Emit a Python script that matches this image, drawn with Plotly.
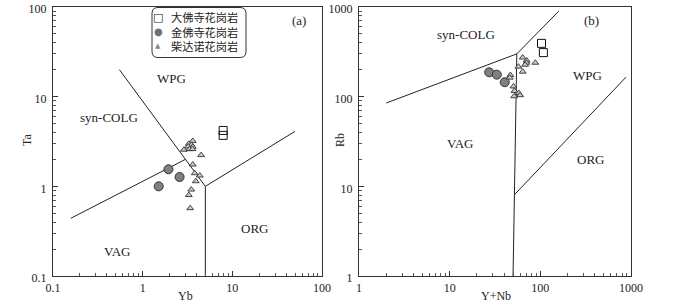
import plotly.graph_objects as go

# ---------------- data ----------------
# (a) Ta vs Yb
dafosi_yb = [7.9, 7.9]
dafosi_ta = [4.2, 3.7]
jinfosi_yb = [1.94, 2.58, 1.51]
jinfosi_ta = [1.55, 1.27, 1.0]
chaida_yb = [3.62, 3.27, 3.50, 3.22, 3.62, 2.88, 3.33, 3.59, 4.49, 3.62, 3.81, 4.33, 3.91, 3.48, 3.27, 3.39]
chaida_ta = [3.21, 2.98, 2.90, 2.78, 2.76, 2.56, 2.60, 2.60, 2.23, 1.75, 1.40, 1.32, 1.14, 0.92, 0.80, 0.57]

# (b) Rb vs Y+Nb
dafosi_ynb = [103, 108]
dafosi_rb = [393, 310]
jinfosi_ynb = [27.3, 33.1, 40.5]
jinfosi_rb = [187, 176, 145]
chaida_ynb = [63.9, 70.7, 70.2, 67.9, 88.1, 57.3, 63.9, 46.8, 46.0, 50.5, 51.8, 57.8, 59.8, 51.4]
chaida_rb = [273, 253, 239, 227, 239, 216, 190, 174, 163, 130, 116, 110, 104, 101]

# discrimination boundaries (Pearce et al., 1984)
a_lines = [
    ([0.158, 3.0], [0.44, 2.0]),
    ([0.55, 5.0], [20.0, 1.0]),
    ([5.0, 5.0], [1.0, 0.1]),
    ([5.0, 50.0], [1.0, 4.1]),
]
b_lines = [
    ([2.0, 55.0], [85.0, 300.0]),
    ([55.0, 160.0], [300.0, 900.0]),
    ([55.0, 51.5, 50.0], [300.0, 8.0, 1.0]),
    ([51.5, 880.0], [8.0, 165.0]),
]

names = ["大佛寺花岗岩", "金佛寺花岗岩", "柴达诺花岗岩"]
legend_glyphs = ["□", "●", "▲"]

# ---------------- figure ----------------
W, H = 700, 303
ML, MR, MT, MB = 0, 0, 7, 27
PH = H - MT - MB

def px(x):
    return x / W

def py(y):
    return (H - MB - y) / PH

fig = go.Figure()

LINE = dict(color="#222", width=1)
for xs, ys in a_lines:
    fig.add_trace(go.Scatter(x=xs, y=ys, mode="lines", line=LINE, showlegend=False,
                             hoverinfo="skip", xaxis="x", yaxis="y"))
for xs, ys in b_lines:
    fig.add_trace(go.Scatter(x=xs, y=ys, mode="lines", line=LINE, showlegend=False,
                             hoverinfo="skip", xaxis="x2", yaxis="y2"))

sq = dict(symbol="square-open", size=8, color="#111", line=dict(width=1, color="#111"))
ci = dict(symbol="circle", size=9, color="#808080", line=dict(width=1, color="#333"))
tr = dict(symbol="triangle-up", size=6, color="#c8c8c8", line=dict(width=0.9, color="#333"))

for xs, ys, m, n, xa, ya in [
    (dafosi_yb, dafosi_ta, sq, names[0], "x", "y"),
    (jinfosi_yb, jinfosi_ta, ci, names[1], "x", "y"),
    (chaida_yb, chaida_ta, tr, names[2], "x", "y"),
    (dafosi_ynb, dafosi_rb, sq, names[0], "x2", "y2"),
    (jinfosi_ynb, jinfosi_rb, ci, names[1], "x2", "y2"),
    (chaida_ynb, chaida_rb, tr, names[2], "x2", "y2"),
]:
    fig.add_trace(go.Scatter(x=xs, y=ys, mode="markers", marker=m, name=n,
                             showlegend=False, xaxis=xa, yaxis=ya))

FONT = "Liberation Serif, Times New Roman, serif"

def axis(domain, rng, anchor, shift=0, standoff=0):
    return dict(
        type="log", range=rng, domain=domain, anchor=anchor,
        showgrid=False, zeroline=False,
        showline=True, linecolor="#333", linewidth=1.2, mirror=True,
        ticks="inside", ticklen=5, tickwidth=1, tickcolor="#333",
        dtick=1, tickfont=dict(family=FONT, size=12, color="#222"),
        ticklabeloverflow="allow", ticklabelshift=shift, ticklabelstandoff=standoff,
        minor=dict(ticks="inside", ticklen=3, tickwidth=1, tickcolor="#555", dtick="D1", showgrid=False),
        automargin=False,
    )

fig.update_layout(
    width=W, height=H,
    margin=dict(l=ML, r=MR, t=MT, b=MB),
    paper_bgcolor="white", plot_bgcolor="white",
    font=dict(family=FONT, size=12, color="#222"),
    xaxis=axis([px(53), px(322)], [-1, 2], "y"),
    yaxis=axis([0, 1], [-1, 2], "x", 2, 3),
    xaxis2=axis([px(359), px(631)], [0, 3], "y2"),
    yaxis2=axis([0, 1], [0, 3], "x2", 2, 3),
    showlegend=False,
)

ann = []
def A(text, x, y, xref="paper", yref="paper", size=12, angle=0, family=FONT,
      color="#222", xanchor="center", align="center"):
    ann.append(dict(text=text, x=x, y=y, xref=xref, yref=yref, showarrow=False,
                    font=dict(family=family, size=size, color=color), textangle=angle,
                    xanchor=xanchor, yanchor="middle", align=align))

# axis titles
A("Ta", px(27), py(140), angle=-90)
A("Yb", px(185), py(296))
A("Rb", px(340), py(140), angle=-90)
A("Y+Nb", px(496), py(296))

# region labels (log10 positions)
A("WPG", 0.322, 1.205, "x", "y", 13)
A("syn-COLG", -0.378, 0.764, "x", "y", 13)
A("VAG", -0.278, -0.724, "x", "y", 13)
A("ORG", 1.244, -0.471, "x", "y", 13)
A("(a)", 1.744, 1.845, "x", "y", 13)
A("syn-COLG", 1.176, 2.690, "x2", "y2", 13)
A("WPG", 2.516, 2.238, "x2", "y2", 13)
A("VAG", 1.121, 1.477, "x2", "y2", 13)
A("ORG", 2.549, 1.301, "x2", "y2", 13)
A("(b)", 2.560, 2.845, "x2", "y2", 13)

# legend (manual, to match tight row spacing)
rows = [17.5, 32, 46.5]
g_style = [dict(size=11, color="#111"), dict(size=10, color="#707070"), dict(size=7, color="#888")]
for i in range(3):
    A(legend_glyphs[i], px(158), py(rows[i]), family="DejaVu Sans", **g_style[i])
A("<br>".join(names), px(169), py(sum(rows) / 3), family="Noto Sans CJK SC",
  size=11.2, xanchor="left", align="left")
fig.update_layout(annotations=ann)

# rounded legend frame
x0, x1, y0, y1 = px(152), px(246), py(57.5), py(7.5)
rx, ry = 6 / W, 6 / PH
path = (f"M {x0+rx},{y1} L {x1-rx},{y1} Q {x1},{y1} {x1},{y1-ry} "
        f"L {x1},{y0+ry} Q {x1},{y0} {x1-rx},{y0} L {x0+rx},{y0} "
        f"Q {x0},{y0} {x0},{y0+ry} L {x0},{y1-ry} Q {x0},{y1} {x0+rx},{y1} Z")
fig.add_shape(type="path", path=path, xref="paper", yref="paper",
              line=dict(color="#333", width=1))

fig.write_html("out.html", config={"displayModeBar": False},
               post_script="document.body.style.margin='0';document.body.style.padding='0';")
